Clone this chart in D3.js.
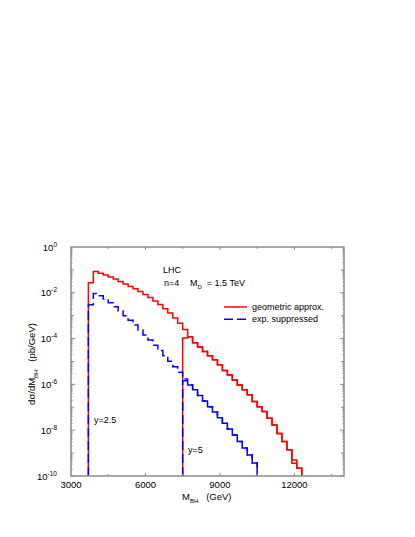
<!DOCTYPE html>
<html>
<head>
<meta charset="utf-8">
<script src="https://cdn.jsdelivr.net/npm/d3@7"></script>
<style>
  body { margin: 0; background: #fff; }
  svg { display: block; font-family: "Liberation Sans", Arial, sans-serif; }
</style>
</head>
<body>
<svg id="chart"></svg>
<script>
// histogram bins, 200 GeV wide
const binWidth = 200;

// geometric approx. (red), y = 2.5 threshold
const geomY25Start = 3700;
const geomY25 = [2.75e-2, 8.5e-2, 7.2e-2, 6.0e-2, 4.9e-2, 4.0e-2, 3.1e-2, 2.4e-2, 1.9e-2, 1.5e-2,
    1.15e-2, 8.5e-3, 6.2e-3, 4.4e-3, 3.1e-3, 2.0e-3, 1.3e-3, 7.9e-4, 4.7e-4,
    2.5e-4, 1.2e-4, 6.6e-5, 4.3e-5, 2.7e-5, 1.8e-5, 1.2e-5, 7.2e-6, 4.0e-6, 2.6e-6,
    1.55e-6, 9.3e-7, 5.8e-7, 3.5e-7, 1.8e-7, 1.07e-7, 6.5e-8, 3.3e-8, 1.7e-8, 7.2e-9,
    3.2e-9, 1.4e-9, 5.0e-10, 2.2e-10];

// geometric approx. (red), y = 5 threshold
const geomY5Start = 7500;
const geomY5 = [1.07e-4, 1.2e-4, 6.6e-5, 4.3e-5, 2.7e-5, 1.8e-5, 1.2e-5, 7.2e-6, 4.0e-6, 2.6e-6,
    1.55e-6, 9.3e-7, 5.8e-7, 3.5e-7, 1.8e-7, 1.07e-7, 6.5e-8, 3.3e-8, 1.7e-8, 7.2e-9,
    3.2e-9, 1.4e-9, 3.6e-10, 2.2e-10];

// exp. suppressed (blue), y = 2.5 threshold
const expY25Start = 3700;
const expY25 = [3.0e-3, 9.3e-3, 7.4e-3, 5.4e-3, 3.7e-3, 2.45e-3, 1.6e-3, 1.0e-3, 6.3e-4, 3.9e-4,
    2.4e-4, 1.45e-4, 8.7e-5, 5.1e-5, 3.0e-5, 1.8e-5, 1.02e-5, 5.9e-6, 3.4e-6,
    1.74e-6, 9.3e-7, 5.8e-7, 3.3e-7, 1.9e-7, 1.07e-7, 6.2e-8, 3.5e-8, 2.0e-8, 1.12e-8,
    6.2e-9, 3.2e-9, 1.66e-9, 8.3e-10, 3.7e-10];

// exp. suppressed (blue), y = 5 threshold
const expY5Start = 7500;
const expY5 = [1.45e-6, 9.3e-7, 5.8e-7, 3.3e-7, 1.9e-7, 1.07e-7, 6.2e-8, 3.5e-8, 2.0e-8, 1.12e-8,
    6.2e-9, 3.2e-9, 1.66e-9, 8.3e-10, 3.7e-10];

const xTickValues = [3000, 6000, 9000, 12000];
const yTickExponents = [0, -2, -4, -6, -8, -10];

// Configuration
const width = 415;
const height = 537;
const plotLeft = 71, plotRight = 344, plotTop = 247, plotBottom = 476;
const frameColor = '#8c8c8c';

const svg = d3.select('#chart')
    .attr('width', width)
    .attr('height', height);

const x = d3.scaleLinear().domain([3000, 14000]).range([plotLeft, plotRight]);
const y = d3.scaleLog().domain([1e-10, 1]).range([plotBottom, plotTop]);

// turn bin values into a closed step outline
function stepPoints(start, values) {
    const pts = [[start, 1e-10]];
    values.forEach((v, i) => {
        const e0 = start + i * binWidth;
        pts.push([e0, v], [e0 + binWidth, v]);
    });
    pts.push([start + values.length * binWidth, 1e-10]);
    return pts;
}

const line = d3.line()
    .x(d => x(d[0]))
    .y(d => y(Math.max(d[1], 1e-10)));

const g = svg.append('g');

// red histograms
[[geomY25Start, geomY25], [geomY5Start, geomY5]].forEach(([s, v]) => {
    g.append('path')
        .attr('d', line(stepPoints(s, v)))
        .attr('fill', 'none')
        .attr('stroke', '#ff0000')
        .attr('stroke-width', 1.5);
});

// blue dashed histograms on top
[[expY25Start, expY25], [expY5Start, expY5]].forEach(([s, v]) => {
    g.append('path')
        .attr('d', line(stepPoints(s, v)))
        .attr('fill', 'none')
        .attr('stroke', '#0000ff')
        .attr('stroke-width', 1.5)
        .attr('stroke-dasharray', '9,4');
});

// frame
svg.append('rect')
    .attr('x', plotLeft).attr('y', plotTop)
    .attr('width', plotRight - plotLeft).attr('height', plotBottom - plotTop)
    .attr('fill', 'none')
    .attr('stroke', frameColor)
    .attr('stroke-width', 1.5);

// x ticks (major every 3000, minor every 1500), on bottom and top
const xAll = d3.range(4500, 14000, 1500);
xAll.forEach(v => {
    const len = (v % 3000 === 0) ? 3 : 2;
    [[plotBottom, -len], [plotTop, len]].forEach(([y0, d]) => {
        svg.append('line')
            .attr('x1', x(v)).attr('x2', x(v))
            .attr('y1', y0).attr('y2', y0 + d)
            .attr('stroke', frameColor).attr('stroke-width', 1);
    });
});

// y ticks: decades and 2..9 sub-ticks on left and right
for (let e = -10; e < 0; e++) {
    for (let m = 1; m <= 9; m++) {
        const v = m * Math.pow(10, e);
        let len = 1.5;
        if (m === 1) len = (e % 2 === 0) ? 4 : 3;
        const yy = y(v);
        svg.append('line')
            .attr('x1', plotLeft).attr('x2', plotLeft + len)
            .attr('y1', yy).attr('y2', yy)
            .attr('stroke', frameColor).attr('stroke-width', 1);
        svg.append('line')
            .attr('x1', plotRight).attr('x2', plotRight - len)
            .attr('y1', yy).attr('y2', yy)
            .attr('stroke', frameColor).attr('stroke-width', 1);
    }
}

// x tick labels
svg.selectAll('.xlabel')
    .data(xTickValues)
    .enter()
    .append('text')
    .attr('x', d => x(d))
    .attr('y', 488)
    .attr('text-anchor', 'middle')
    .attr('font-size', 9.5)
    .text(d => d);

// y tick labels 10^n
yTickExponents.forEach(e => {
    const t = svg.append('text')
        .attr('x', 57)
        .attr('y', y(Math.pow(10, e)) + 3.5)
        .attr('text-anchor', 'end')
        .attr('font-size', 9.5);
    t.append('tspan').text('10');
    t.append('tspan').attr('dy', -4).attr('font-size', 6.5).text(e === 0 ? '0' : '-' + (-e));
});

// axis titles
const xt = svg.append('text')
    .attr('x', 182)
    .attr('y', 500)
    .attr('font-size', 9.5);
xt.append('tspan').text('M');
xt.append('tspan').attr('dy', 2.5).attr('font-size', 6).text('BH');
xt.append('tspan').attr('dy', -2.5).attr('xml:space', 'preserve').text('   (GeV)');

const yt = svg.append('text')
    .attr('transform', 'translate(35, 364) rotate(-90)')
    .attr('text-anchor', 'middle')
    .attr('font-size', 9.5);
yt.append('tspan').text('dσ/dM');
yt.append('tspan').attr('dy', 2.5).attr('font-size', 6).text('BH');
yt.append('tspan').attr('dy', -2.5).attr('xml:space', 'preserve').text('   (pb/GeV)');

// annotations
svg.append('text').attr('x', 163).attr('y', 273).attr('font-size', 9).text('LHC');
svg.append('text').attr('x', 164).attr('y', 286).attr('font-size', 9).text('n=4');
const md = svg.append('text').attr('x', 190).attr('y', 286).attr('font-size', 9);
md.append('tspan').text('M');
md.append('tspan').attr('dy', 2.5).attr('font-size', 6).text('D');
md.append('tspan').attr('dy', -2.5).attr('xml:space', 'preserve').text('  = 1.5 TeV');

svg.append('text').attr('x', 94).attr('y', 423).attr('font-size', 9).text('y=2.5');
svg.append('text').attr('x', 188).attr('y', 453).attr('font-size', 9).text('y=5');

// legend
const legendItems = [
    { color: '#ff0000', dash: null, label: 'geometric approx.' },
    { color: '#0000ff', dash: '9,4', label: 'exp. suppressed' }
];
legendItems.forEach((item, i) => {
    const ly = 307 + i * 12.3;
    svg.append('line')
        .attr('x1', 224).attr('x2', 247)
        .attr('y1', ly).attr('y2', ly)
        .attr('stroke', item.color)
        .attr('stroke-width', 1.5)
        .attr('stroke-dasharray', item.dash);
    svg.append('text')
        .attr('x', 252)
        .attr('y', ly + 3)
        .attr('font-size', 9)
        .text(item.label);
});
</script>
</body>
</html>
